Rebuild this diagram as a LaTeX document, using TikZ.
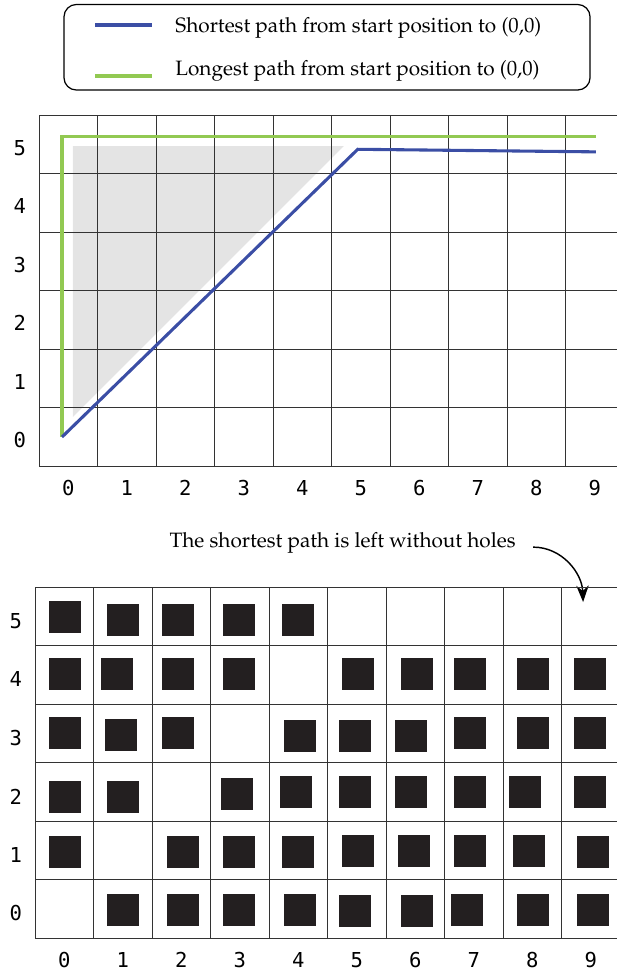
\documentclass[tikz,border=0pt]{standalone}
\usepackage[T1]{fontenc}
\usepackage{fontspec}
\usepackage{tikz}
\usetikzlibrary{arrows.meta}

\newfontfamily\digitfont{DejaVu Sans Mono}
\newcommand{\pala}{\usefont{T1}{ppl}{m}{n}}

\definecolor{pathblue}{RGB}{59,78,165}
\definecolor{pathgreen}{RGB}{146,201,82}
\definecolor{shadegray}{RGB}{228,228,228}
\definecolor{holeblack}{RGB}{35,31,32}

\begin{document}
\begin{tikzpicture}[x=1cm, y=1cm,
  gridline/.style={black!80, line width=0.5pt},
  shortpath/.style={pathblue, line width=1.5pt},
  longpath/.style={pathgreen, line width=1.5pt},
  hole/.style={fill=holeblack},
  axislabel/.style={font=\digitfont\fontsize{10}{12}\selectfont},
  notetext/.style={font=\pala\fontsize{10.1}{12}\selectfont},
  pointer/.style={-{Stealth[length=8pt,width=6pt]}, line width=0.7pt}]
\useasboundingbox (-0.667,-8.70) rectangle (9.863,7.966);

% legend
\draw[rounded corners=6pt, line width=0.6pt] (0.427,6.427) rectangle (9.419,7.889);
\coordinate (sa) at (0.957,7.538);
\coordinate (sb) at (1.932,7.538);
\coordinate (la) at (0.957,6.667);
\coordinate (lb) at (1.932,6.667);
\draw[shortpath] (sa) -- (sb);
\draw[longpath] (la) -- (lb);
\node[notetext, right, inner sep=0pt] (shortlbl) at (2.325,7.49) {Shortest path from start position to (0,0)};
\node[notetext, right, inner sep=0pt] (longlbl) at (2.325,6.75) {Longest path from start position to (0,0)};

% paths on the board
\fill[shadegray] (0.58,5.47) -- (5.21,5.47) -- (0.58,0.84) -- cycle;
\draw[gridline] (0,0) grid (10,6);
\draw[longpath] (0.393,0.496) -- (0.393,5.64) -- (9.52,5.64);
\draw[shortpath] (0.393,0.496) -- (5.448,5.414) -- (9.52,5.37);
\foreach \i in {0,...,9}
  \node[axislabel] (tx\i) at (\i+0.5,-0.376) {\i};
\foreach \j in {0,...,5}
  \node[axislabel] (ty\j) at (-0.33,\j+0.44) {\j};

% note
\node[notetext] (note) at (5.19,-1.316) {The shortest path is left without holes};
\coordinate (holecell) at (9.30,-2.325);
\draw[pointer] ([xshift=5pt,yshift=-2pt]note.east) to[out=0,in=92] (holecell);

% board with holes
\begin{scope}[shift={(-0.068,-8.068)}]
\draw[gridline] (0,0) grid (10,6);
\foreach \c/\r/\dx/\dy in {0/5/.239/.219, 1/5/.231/.162, 2/5/.171/.162, 3/5/.214/.162, 4/5/.222/.162,
    0/4/.239/.239, 1/4/.128/.239, 2/4/.171/.239, 3/4/.214/.239, 5/4/.248/.239, 6/4/.256/.239, 7/4/.162/.239, 8/4/.239/.239, 9/4/.214/.239,
    0/3/.239/.231, 1/3/.197/.197, 2/3/.171/.231, 4/3/.256/.18, 5/3/.197/.18, 6/3/.154/.18, 7/3/.162/.231, 8/3/.239/.231, 9/3/.214/.231,
    0/2/.239/.137, 1/2/.231/.137, 3/2/.18/.188, 4/2/.188/.222, 5/2/.197/.222, 6/2/.154/.222, 7/2/.162/.222, 8/2/.103/.222, 9/2/.214/.222,
    0/1/.239/.197, 2/1/.256/.197, 3/1/.214/.197, 4/1/.222/.197, 5/1/.248/.214, 6/1/.205/.214, 7/1/.162/.214, 8/1/.171/.214, 9/1/.265/.197,
    1/0/.231/.205, 2/0/.256/.205, 3/0/.214/.205, 4/0/.256/.205, 5/0/.197/.188, 6/0/.256/.188, 7/0/.111/.205, 8/0/.239/.205, 9/0/.265/.205}
  \fill[hole] (\c+\dx,\r+\dy) rectangle ++(0.547,0.547);
\foreach \i in {0,...,9}
  \node[axislabel] (bx\i) at (\i+0.5,-0.376) {\i};
\foreach \j in {0,...,5}
  \node[axislabel] (by\j) at (-0.33,\j+0.42) {\j};
\end{scope}
\end{tikzpicture}
\end{document}
